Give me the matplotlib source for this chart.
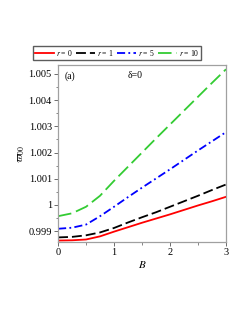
import numpy as np
import matplotlib.pyplot as plt
from matplotlib.ticker import MultipleLocator

plt.rcParams['font.family'] = ['Liberation Serif', 'DejaVu Serif']
plt.rcParams['mathtext.fontset'] = 'stix'

# values
B = [0, 0.25, 0.5, 0.75, 1, 1.25, 1.5, 1.75, 2, 2.25, 2.5, 2.75, 3]
w_r0 = [0.99864, 0.99865, 0.99868, 0.99880, 0.99898, 0.99915, 0.99932, 0.99948,
        0.99964, 0.99981, 0.99998, 1.00014, 1.00031]
w_r1 = [0.99876, 0.99878, 0.99884, 0.99895, 0.99912, 0.99933, 0.99953, 0.99972,
        0.99993, 1.00014, 1.00035, 1.00057, 1.00078]
w_r5 = [0.99909, 0.99913, 0.99925, 0.99957, 0.99993, 1.00030, 1.00066, 1.00101,
        1.00136, 1.00172, 1.00208, 1.00243, 1.00278]
w_r10 = [0.99957, 0.99968, 0.99993, 1.00035, 1.00092, 1.00146, 1.00200, 1.00254,
         1.00307, 1.00360, 1.00413, 1.00466, 1.00518]
labels = ['$r$ = 0', '$r$ = 1', '$r$ = 5', '$r$ = 10']
yticks = [0.999, 1, 1.001, 1.002, 1.003, 1.004, 1.005]
ytick_labels = ['0.999', '1', '1.001', '1.002', '1.003', '1.004', '1.005']

fig = plt.figure(figsize=(2.47, 3.19), dpi=100)
ax = fig.add_axes([0.235, 0.241, 0.680, 0.555])

l0, = ax.plot(B, w_r0, color='red', lw=1.3, ls='-')
l1, = ax.plot(B, w_r1, color='black', lw=1.3, ls=(0, (5.5, 2.2)))
l2, = ax.plot(B, w_r5, color='blue', lw=1.3, ls=(0, (4.5, 1.8, 1, 1.8)))
l3, = ax.plot(B, w_r10, color='#33cc33', lw=1.3, ls=(0, (7.5, 2.8)))

ax.set_xlim(0, 3)
ax.set_ylim(0.99858, 1.00534)
ax.set_xticks([0, 1, 2, 3])
ax.xaxis.set_minor_locator(MultipleLocator(0.5))
ax.set_yticks(yticks)
ax.set_yticklabels(ytick_labels)
ax.yaxis.set_minor_locator(MultipleLocator(0.0005))
ax.tick_params(labelsize=7.5, length=3, width=0.6, colors='#555555', labelcolor='black', pad=1.5)
ax.tick_params(which='minor', length=1.8, width=0.5, colors='#555555')
for s in ax.spines.values():
    s.set_color('#a0a0a0')
    s.set_linewidth(0.9)

ax.set_xlabel('$B$', fontsize=8, labelpad=1)
ax.set_ylabel(r'$\varpi_{00}$', fontsize=8, labelpad=1)
ax.text(0.04, 0.965, '(a)', transform=ax.transAxes, fontsize=7, va='top', ha='left')
ax.text(0.46, 0.965, 'δ=0', transform=ax.transAxes, fontsize=7, va='top', ha='center')

fig.legend([l0, l1, l2, l3], labels, loc='center', bbox_to_anchor=(0.475, 0.835),
           ncol=4, fontsize=5.5, frameon=True, fancybox=False, edgecolor='#333333',
           handlelength=2.4, handletextpad=0.3, columnspacing=0.5, borderpad=0.25,
           borderaxespad=0)

fig.savefig('out.png', dpi=100)
